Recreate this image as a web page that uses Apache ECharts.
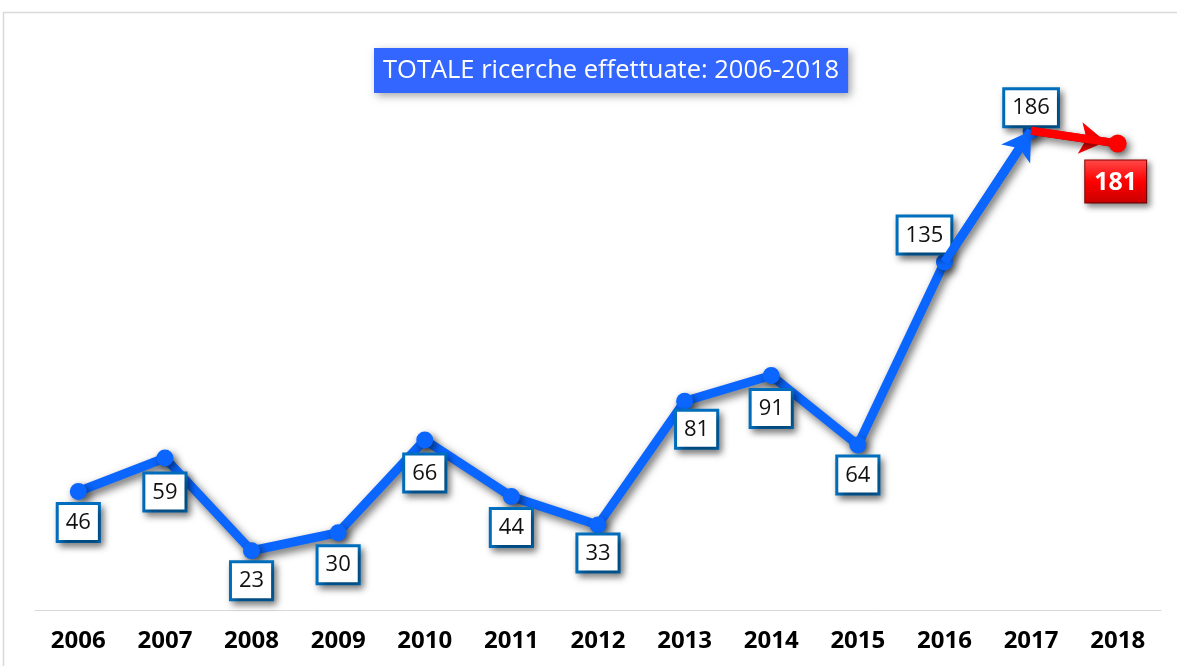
<!DOCTYPE html>
<html>
<head>
<meta charset="utf-8">
<title>TOTALE ricerche effettuate</title>
<script src="https://cdn.jsdelivr.net/npm/echarts@6/dist/echarts.min.js"></script>
<style>
  html, body { margin: 0; padding: 0; background: #ffffff; }
  #chart { width: 1177px; height: 666px; }
</style>
</head>
<body>
<div id="chart"></div>
<script>
// Years on the category axis
const years = ['2006', '2007', '2008', '2009', '2010', '2011', '2012', '2013', '2014', '2015', '2016', '2017', '2018'];
// Searches carried out per year (2006-2017, blue trend)
const totals = [46, 59, 23, 30, 66, 44, 33, 81, 91, 64, 135, 186];
// Latest year, highlighted in red
const lastYear = '2018';
const lastTotal = 181;
const titleText = 'TOTALE ricerche effettuate: 2006-2018';

// Label nudges per point [dx, dy, placement]
const labelShift = {
  '2007': [0, 3, 'bottom'],
  '2008': [0, -1, 'bottom'],
  '2009': [0, 1, 'bottom'],
  '2010': [0, 2, 'bottom'],
  '2011': [0, 0, 'bottom'],
  '2012': [0, -3, 'bottom'],
  '2013': [12, -3, 'bottom'],
  '2014': [0, 2, 'bottom'],
  '2015': [0, -1, 'bottom'],
  '2016': [-20, 4, 'top'],
  '2017': [0, 8, 'top']
};

const BLUE = '#0a66ff';
const RED = '#ff0000';
const FONT = '"Open Sans", "Liberation Sans", sans-serif';

const boxLabel = {
  show: true,
  position: 'bottom',
  distance: 5,
  color: '#111111',
  fontFamily: FONT,
  fontSize: 22,
  lineHeight: 26,
  backgroundColor: '#ffffff',
  borderColor: '#0070c0',
  borderWidth: 3,
  padding: [5, 7, 4, 7],
  shadowColor: 'rgba(0,0,0,0.45)',
  shadowBlur: 7,
  shadowOffsetX: 3,
  shadowOffsetY: 4
};

const blueData = totals.map(function (v, i) {
  const s = labelShift[years[i]];
  if (!s) return v;
  return { value: v, label: { position: s[2], offset: [s[0], s[1]] } };
});

const redData = years.map(function (y, i) {
  if (i === years.length - 2) return { value: totals[i], symbolSize: 0, label: { show: false } };
  if (y === lastYear) return lastTotal;
  return '-';
});

const lineShadow = {
  shadowColor: 'rgba(0,0,0,0.6)',
  shadowBlur: 8,
  shadowOffsetX: 3,
  shadowOffsetY: 4
};

const chart = echarts.init(document.getElementById('chart'), null, { renderer: 'canvas' });

chart.setOption({
  backgroundColor: '#ffffff',
  animation: false,
  title: {
    text: titleText,
    left: 374,
    top: 48,
    backgroundColor: '#3366ff',
    padding: [8, 9, 8, 9],
    textStyle: {
      color: '#ffffff',
      fontFamily: FONT,
      fontWeight: 'normal',
      fontSize: 25.5,
      lineHeight: 29
    },
    shadowColor: 'rgba(0,0,0,0.35)',
    shadowBlur: 8,
    shadowOffsetX: 3,
    shadowOffsetY: 3
  },
  graphic: [{
    type: 'rect',
    shape: { x: 3.5, y: 12.5, width: 1300, height: 800 },
    style: { fill: 'none', stroke: '#d9d9d9', lineWidth: 1.5 },
    silent: true
  }],
  grid: { left: 35, right: 16, top: 94.6, bottom: 56 },
  xAxis: {
    type: 'category',
    data: years,
    boundaryGap: true,
    axisLine: { lineStyle: { color: '#d9d9d9', width: 1 } },
    axisTick: { show: false },
    axisLabel: {
      color: '#000000',
      fontFamily: FONT,
      fontWeight: 'bold',
      fontSize: 24,
      margin: 19
    }
  },
  yAxis: {
    type: 'value',
    min: 0,
    max: 200,
    show: false,
    splitLine: { show: false }
  },
  series: [
    {
      name: 'Totale',
      type: 'line',
      data: blueData,
      z: 3,
      symbol: 'circle',
      symbolSize: 17,
      lineStyle: Object.assign({ color: BLUE, width: 9 }, lineShadow),
      itemStyle: Object.assign({ color: BLUE }, lineShadow),
      label: boxLabel,
      markLine: {
        silent: true,
        symbol: ['none', 'arrow'],
        symbolSize: [26, 28],
        label: { show: false },
        lineStyle: { color: BLUE, width: 9, type: 'solid' },
        data: [[
          { coord: [years[10], totals[10]] },
          { coord: [years[11], totals[11]] }
        ]]
      }
    },
    {
      name: lastYear,
      type: 'line',
      data: redData,
      z: 5,
      symbol: 'circle',
      symbolSize: 18,
      lineStyle: Object.assign({ color: RED, width: 8 }, lineShadow),
      itemStyle: Object.assign({ color: RED }, lineShadow),
      label: {
        show: true,
        position: 'bottom',
        distance: 5,
        offset: [-2, 3],
        color: '#ffffff',
        fontFamily: FONT,
        fontWeight: 'bold',
        fontSize: 25,
        lineHeight: 30,
        padding: [7, 9, 5, 9],
        backgroundColor: {
          type: 'linear', x: 0, y: 0, x2: 0, y2: 1,
          colorStops: [
            { offset: 0, color: '#ff4a4a' },
            { offset: 0.5, color: '#ff0000' },
            { offset: 1, color: '#c80000' }
          ]
        },
        borderColor: '#8b0000',
        borderWidth: 1,
        shadowColor: 'rgba(0,0,0,0.45)',
        shadowBlur: 6,
        shadowOffsetX: 3,
        shadowOffsetY: 3
      },
      markLine: {
        silent: true,
        z: 4,
        symbol: ['none', 'arrow'],
        symbolSize: [24, 26],
        label: { show: false },
        lineStyle: { color: RED, width: 8, type: 'solid' },
        data: [[
          { coord: [years[11], totals[11]] },
          { coord: [lastYear, lastTotal], symbolOffset: [0, 12] }
        ]]
      }
    }
  ]
});
</script>
</body>
</html>
